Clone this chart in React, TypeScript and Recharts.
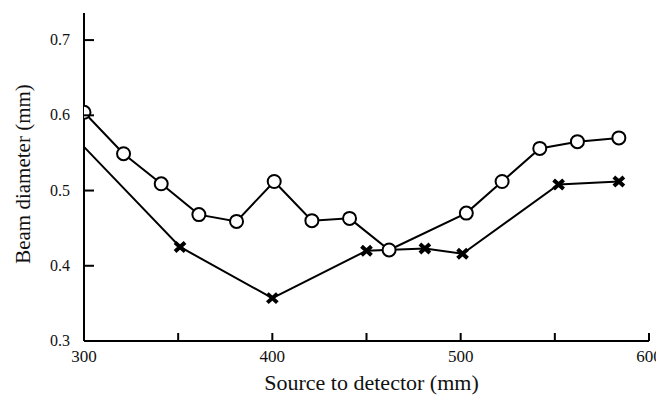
import React from 'react';
import { LineChart, Line, XAxis, YAxis } from 'recharts';

const circleX = [300, 321, 341, 361, 381, 401, 421, 441, 462, 503, 522, 542, 562, 584];
const circleY = [0.604, 0.549, 0.509, 0.468, 0.459, 0.512, 0.46, 0.463, 0.421, 0.47, 0.512, 0.556, 0.565, 0.57];
const crossX = [300, 351, 400, 450, 481, 501, 552, 584];
const crossY = [0.558, 0.425, 0.357, 0.42, 0.423, 0.416, 0.508, 0.512];
const xTicks = [300, 350, 400, 450, 500, 550, 600];
const xLabelTicks = [300, 400, 500, 600];
const yTicks = [0.3, 0.4, 0.5, 0.6, 0.7];

const circleData = circleX.map((x, i) => ({ x, y: circleY[i] }));
const crossData = crossX.map((x, i) => ({ x, y: crossY[i] }));

const FONT = '"Liberation Serif", "Times New Roman", serif';
const INK = '#000';

const XTick = (props: any) => {
  const { x, y, payload } = props;
  const v = payload.value;
  return (
    <g>
      <line x1={x} y1={y} x2={x} y2={y - 8} stroke={INK} strokeWidth={2} />
      {xLabelTicks.includes(v) ? (
        <text x={x} y={y + 21} textAnchor="middle" style={{ fontFamily: FONT }} fontSize={17} fill="#111">
          {v}
        </text>
      ) : null}
    </g>
  );
};

const YTick = (props: any) => {
  const { x, y, payload } = props;
  return (
    <g>
      <line x1={x} y1={y} x2={x + 10} y2={y} stroke={INK} strokeWidth={2} />
      <text x={x - 14} y={y + 5} textAnchor="end" style={{ fontFamily: FONT }} fontSize={16} fill="#111">
        {payload.value.toFixed(1)}
      </text>
    </g>
  );
};

const CircleDot = (props: any) => {
  const { cx, cy, index } = props;
  return <circle key={`c${index}`} cx={cx} cy={cy} r={6.5} fill="#fff" stroke={INK} strokeWidth={2} />;
};

const CrossDot = (props: any) => {
  const { cx, cy, index } = props;
  if (index === 0) return <g key={`x${index}`} />;
  const w = 5, h = 4.5;
  return (
    <g key={`x${index}`}>
      <path
        d={`M${cx - w},${cy - h}L${cx + w},${cy + h}M${cx + w},${cy - h}L${cx - w},${cy + h}`}
        stroke={INK}
        strokeWidth={4}
        fill="none"
      />
    </g>
  );
};

const XLabel = (props: any) => {
  const { viewBox } = props;
  return (
    <text x={viewBox.x + viewBox.width / 2 + 5} y={382} textAnchor="middle" style={{ fontFamily: FONT }} fontSize={22} fill="#111">
      Source to detector (mm)
    </text>
  );
};

const YLabel = () => (
  <text
    x={0}
    y={0}
    transform="translate(22,166) rotate(-90)"
    textAnchor="middle"
    style={{ fontFamily: FONT }}
    fontSize={21}
    fill="#111"
  >
    Beam diameter (mm)
  </text>
);

export default function App() {
  return (
    <LineChart width={656} height={388} margin={{ top: 5, right: 15, left: 0, bottom: 0 }}>
      <XAxis
        type="number"
        dataKey="x"
        domain={[300, 600]}
        ticks={xTicks}
        tick={<XTick />}
        tickLine={false}
        tickSize={0}
        tickMargin={0}
        height={55}
        axisLine={{ stroke: INK, strokeWidth: 2 }}
        allowDataOverflow
        label={<XLabel />}
      />
      <YAxis
        type="number"
        dataKey="y"
        domain={[0.3, 0.736]}
        ticks={yTicks}
        tick={<YTick />}
        tickLine={false}
        tickSize={0}
        tickMargin={0}
        width={76}
        axisLine={{ stroke: INK, strokeWidth: 2 }}
        allowDataOverflow
        label={<YLabel />}
      />
      <Line
        data={crossData}
        dataKey="y"
        stroke={INK}
        strokeWidth={2}
        dot={<CrossDot />}
        activeDot={false}
        isAnimationActive={false}
        type="linear"
      />
      <Line
        data={circleData}
        dataKey="y"
        stroke={INK}
        strokeWidth={2}
        dot={<CircleDot />}
        activeDot={false}
        isAnimationActive={false}
        type="linear"
      />
    </LineChart>
  );
}
